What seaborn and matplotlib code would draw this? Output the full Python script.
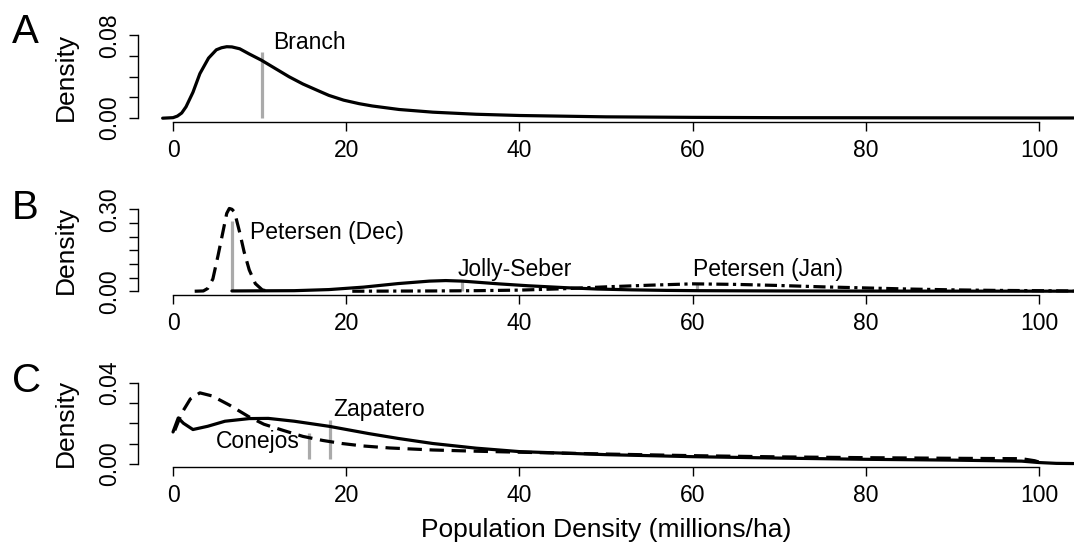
import numpy as np
import pandas as pd
import seaborn as sns
import matplotlib
matplotlib.use('Agg')
import matplotlib.pyplot as plt

# Panel A: Branch posterior
a_x = [-1.2, 0, 0.5, 1.0, 1.5, 2.3, 3.1, 4.1, 5.0, 5.6, 6.2, 6.8, 7.7, 8.8, 10.2,
       11.8, 13.4, 15.0, 16.9, 18.0, 19.7, 21.5, 23.0, 26.1, 30, 35, 40, 50,
       60, 70, 80, 90, 100, 104]
a_y = [0, 0.0005, 0.002, 0.005, 0.011, 0.025, 0.043, 0.058, 0.066, 0.068, 0.069,
       0.0688, 0.067, 0.062, 0.056, 0.048, 0.040, 0.033, 0.026, 0.022, 0.0174,
       0.014, 0.0118, 0.0084, 0.0058, 0.0038, 0.0026, 0.0013, 0.0008, 0.0005,
       0.0004, 0.0003, 0.0002, 0.0002]

# Panel B: Petersen (Dec), Jolly-Seber, Petersen (Jan)
dec_x = [2.5, 3.5, 4.0, 4.6, 5.2, 5.8, 6.2, 6.5, 6.8, 7.1, 7.7, 8.2, 8.8, 9.5, 10.3, 11.0]
dec_y = [0, 0.001, 0.01, 0.045, 0.131, 0.223, 0.285, 0.303, 0.300, 0.29, 0.215,
         0.145, 0.078, 0.028, 0.005, 0]
js_x = [6.8, 10, 14, 18, 22, 26, 29.6, 31.5, 33.4, 37.6, 41, 45.3, 49, 53, 57,
        60.7, 70, 80, 90, 100, 104]
js_y = [0.001, 0.0015, 0.002, 0.006, 0.015, 0.028, 0.037, 0.039, 0.037, 0.027,
        0.02, 0.013, 0.008, 0.005, 0.003, 0.002, 0.001, 0.0005, 0.0003, 0.0002, 0.0001]
jan_x = [20.7, 25, 30, 35, 40, 45, 50, 55, 60, 65, 70, 75, 80, 85, 90, 95, 100, 104]
jan_y = [0, 0.0005, 0.001, 0.002, 0.004, 0.009, 0.016, 0.022, 0.027, 0.025,
         0.021, 0.016, 0.012, 0.008, 0.005, 0.003, 0.002, 0.001]

# Panel C: Zapatero (solid) and Conejos (dashed)
zap_x = [0, 0.6, 1.2, 2.3, 4, 6, 8.8, 11, 14, 18, 22.6, 26, 30, 35, 40, 50, 60,
         70, 80, 90, 98, 100, 102, 104]
zap_y = [0.0157, 0.0226, 0.020, 0.0169, 0.0185, 0.021, 0.0223, 0.0224, 0.021,
         0.0185, 0.0149, 0.0125, 0.0100, 0.0077, 0.0060, 0.0045, 0.0035, 0.0028,
         0.0022, 0.0018, 0.0013, 0.0006, 0.0002, 0.0001]
con_x = [0.2, 1, 2, 3.1, 4.5, 6.5, 8.8, 10.5, 12.7, 15, 17.3, 19.5, 21.9, 25, 30,
         35, 40, 50, 60, 70, 80, 90, 98, 99.5, 100.5]
con_y = [0.0165, 0.025, 0.032, 0.035, 0.0335, 0.029, 0.0231, 0.0195, 0.0165,
         0.0135, 0.0115, 0.0100, 0.0088, 0.0078, 0.0068, 0.0062, 0.0057, 0.0048,
         0.0040, 0.0034, 0.0030, 0.0027, 0.0025, 0.0015, 0.0002]

# point estimates (grey bars)
bar_a = {'x': [10.25], 'lo': [0], 'hi': [0.064]}
bar_b = {'x': [6.8, 33.4, 60.5], 'lo': [0, 0, 0], 'hi': [0.257, 0.037, 0.030]}
bar_c = {'x': [15.7, 18.1], 'lo': [0.0025, 0.0025], 'hi': [0.015, 0.0215]}

sns.set_theme(style='ticks')
plt.rcParams['font.family'] = ['Liberation Sans', 'DejaVu Sans']
plt.rcParams['axes.linewidth'] = 1.0
plt.rcParams['text.color'] = 'black'
plt.rcParams['axes.labelcolor'] = 'black'
plt.rcParams['xtick.color'] = 'black'
plt.rcParams['ytick.color'] = 'black'

W, H = 1075, 550
fig = plt.figure(figsize=(W / 100, H / 100), dpi=100)
fig.patch.set_facecolor('white')

fs = 16.5
fs_lab = 19
left, width = 138.4, 935.2
# bottom px, height px, ymax, yticks, panel letter baseline
panels = [
    (121.5, 89.5, 0.08, [0, 0.02, 0.04, 0.06, 0.08], 'A', 43),
    (294.5, 88.5, 0.30, [0, 0.05, 0.10, 0.15, 0.20, 0.25, 0.30], 'B', 219),
    (467.0, 87.5, 0.04, [0, 0.01, 0.02, 0.03, 0.04], 'C', 392),
]

axes = []
for bot, hgt, ymax, yt, letter, base in panels:
    ax = fig.add_axes([left / W, 1 - bot / H, width / W, hgt / H])
    ax.set_xlim(-4, 104)
    ax.set_ylim(-0.04 * ymax, 1.04 * ymax)
    ax.set_facecolor('white')
    for s in ['top', 'right']:
        ax.spines[s].set_visible(False)
    ax.spines['left'].set_bounds(0, ymax)
    ax.spines['bottom'].set_bounds(0, 100)
    ax.spines['left'].set_color('black')
    ax.spines['bottom'].set_color('black')
    ax.set_xticks([0, 20, 40, 60, 80, 100])
    ax.set_xticklabels(['0', '20', '40', '60', '80', '100'])
    ax.set_yticks(yt)
    labs = [''] * len(yt)
    labs[0] = '0.00'
    labs[-1] = '%.2f' % yt[-1]
    ax.set_yticklabels(labs)
    ax.tick_params(axis='both', direction='out', length=6.5, width=1.0,
                   color='black', labelsize=fs, pad=6, labelcolor='black')
    for lab in ax.get_yticklabels():
        lab.set_rotation(90)
        lab.set_va('center')
        lab.set_ha('right')
    fig.text(12 / W, 1 - base / H, letter, fontsize=29, va='baseline', ha='left')
    fig.text(66 / W, 1 - (bot - hgt / 2) / H, 'Density', fontsize=fs_lab,
             rotation=90, ha='center', va='center')
    axes.append(ax)

lw = 2.3
grey = '#aaaaaa'
dashed = (0, (4.5, 2.4))
dotdash = (0, (3.8, 1.4, 1.0, 1.4))

# A
ax = axes[0]
ax.vlines(bar_a['x'], bar_a['lo'], bar_a['hi'], color=grey, lw=lw, zorder=1)
sns.lineplot(x=a_x, y=a_y, ax=ax, color='black', lw=lw, estimator=None, zorder=3)
ax.text(11.6, 0.0735, 'Branch', fontsize=fs, ha='left', va='center')

# B
ax = axes[1]
ax.vlines(bar_b['x'], bar_b['lo'], bar_b['hi'], color=grey, lw=lw, zorder=1)
sns.lineplot(x=js_x, y=js_y, ax=ax, color='black', lw=lw, estimator=None, zorder=3)
sns.lineplot(x=jan_x, y=jan_y, ax=ax, color='black', lw=lw, estimator=None,
             linestyle=dotdash, zorder=3)
sns.lineplot(x=dec_x, y=dec_y, ax=ax, color='black', lw=lw, estimator=None,
             linestyle=dashed, zorder=3)
ax.text(8.9, 0.216, 'Petersen (Dec)', fontsize=fs, ha='left', va='center')
ax.text(32.9, 0.08, 'Jolly-Seber', fontsize=fs, ha='left', va='center')
ax.text(60.0, 0.08, 'Petersen (Jan)', fontsize=fs, ha='left', va='center')

# C
ax = axes[2]
ax.vlines(bar_c['x'], bar_c['lo'], bar_c['hi'], color=grey, lw=lw, zorder=1)
sns.lineplot(x=zap_x, y=zap_y, ax=ax, color='black', lw=lw, estimator=None, zorder=3)
sns.lineplot(x=con_x, y=con_y, ax=ax, color='black', lw=lw, estimator=None,
             linestyle=dashed, zorder=3)
ax.text(18.5, 0.027, 'Zapatero', fontsize=fs, ha='left', va='center')
ax.text(14.6, 0.011, 'Conejos', fontsize=fs, ha='right', va='center')

for ax in axes:
    ax.set_xlabel('')
    ax.set_ylabel('')

fig.text(606 / W, 1 - 530 / H, 'Population Density (millions/ha)', fontsize=fs_lab,
         ha='center', va='center')

fig.savefig('out.png', dpi=100, facecolor='white')
